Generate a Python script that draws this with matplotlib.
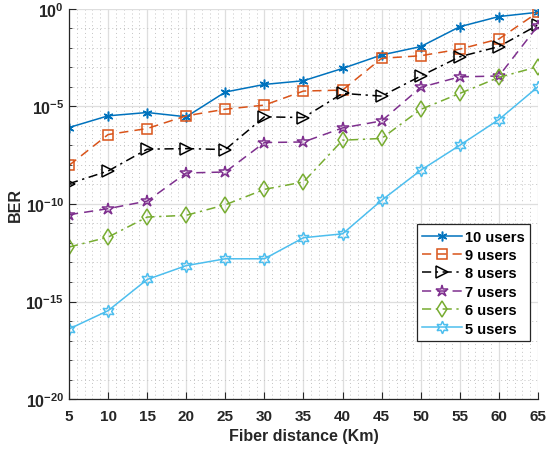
import numpy as np
import matplotlib
matplotlib.use("Agg")
import matplotlib.pyplot as plt
from matplotlib.ticker import FixedLocator, MultipleLocator, NullFormatter

plt.rcParams['font.family'] = 'Liberation Sans'
plt.rcParams['font.weight'] = 'bold'
plt.rcParams['mathtext.fontset'] = 'custom'
plt.rcParams['mathtext.rm'] = 'Liberation Sans:bold'
plt.rcParams['mathtext.bf'] = 'Liberation Sans:bold'

distance = [5, 10, 15, 20, 25, 30, 35, 40, 45, 50, 55, 60, 65]

# log10(BER)
ber_10 = [-6.08, -5.48, -5.31, -5.53, -4.26, -3.87, -3.68, -3.05, -2.36, -1.93, -0.91, -0.39, -0.17]
ber_9 = [-8.02, -6.44, -6.13, -5.48, -5.14, -4.93, -4.21, -4.16, -2.53, -2.40, -2.06, -1.54, -0.17]
ber_8 = [-8.96, -8.31, -7.19, -7.16, -7.21, -5.53, -5.57, -4.33, -4.47, -3.44, -2.45, -1.93, -0.82]
ber_7 = [-10.55, -10.24, -9.85, -8.41, -8.36, -6.85, -6.82, -6.10, -5.74, -4.02, -3.48, -3.44, -0.86]
ber_6 = [-12.21, -11.70, -10.67, -10.58, -10.04, -9.25, -8.87, -6.73, -6.64, -5.15, -4.33, -3.51, -2.96]
ber_5 = [-16.41, -15.47, -13.87, -13.16, -12.81, -12.81, -11.73, -11.53, -9.81, -8.27, -6.99, -5.67, -3.99]

labels = ['10 users', '9 users', '8 users', '7 users', '6 users', '5 users']

series = [ber_10, ber_9, ber_8, ber_7, ber_6, ber_5]
colors = ['#0072BD', '#D95319', '#000000', '#7E2F8E', '#77AC30', '#4DBEEE']
styles = ['-', (0, (6, 4)), (0, (6, 3, 1.5, 3)), (0, (6, 4)), (0, (6, 3, 1.5, 3)), '-']
markers = [(6, 2, 0), 's', '>', '*', 'd', (6, 1, 0)]
msizes = [7, 6.5, 8, 9, 8, 9]

fig = plt.figure(figsize=(5.46, 4.52), dpi=100)
ax = fig.add_axes([0.1264, 0.115, 0.8589, 0.863])

for s, lab, c, ls, m, ms in zip(series, labels, colors, styles, markers, msizes):
    ax.semilogy(distance, 10.0 ** np.array(s), color=c, linestyle=ls, linewidth=1.1,
                marker=m, markersize=ms, markerfacecolor='none', markeredgecolor=c,
                markeredgewidth=1.1, label=lab)

ax.set_xlim(5, 65)
ax.set_ylim(1e-20, 1e0)
ax.xaxis.set_major_locator(MultipleLocator(5))
ax.xaxis.set_minor_locator(MultipleLocator(1))
ax.yaxis.set_major_locator(FixedLocator([10.0 ** e for e in range(-20, 1, 5)]))
ax.yaxis.set_minor_locator(FixedLocator([10.0 ** e for e in range(-20, 1)]))
ax.yaxis.set_minor_formatter(NullFormatter())
ax.set_yticklabels([r'$10^{%d}$' % e for e in range(-20, 1, 5)])

ax.grid(which='major', color='#dedede', linewidth=0.9, linestyle='-')
ax.grid(which='minor', color='#c4c4c4', linewidth=0.7, linestyle=(0, (1, 3)))
ax.set_axisbelow(True)

for side in ['top', 'right']:
    ax.spines[side].set_visible(False)
for side in ['left', 'bottom']:
    ax.spines[side].set_color('#262626')
    ax.spines[side].set_linewidth(0.9)

ax.tick_params(which='both', direction='in', colors='#262626')
ax.tick_params(axis='x', labelsize=11, pad=7)
ax.tick_params(axis='y', labelsize=11.5)
ax.tick_params(which='major', length=5)
ax.tick_params(which='minor', length=2.5)
ax.tick_params(axis='x', which='minor', length=0)

ax.set_xlabel('Fiber distance (Km)', fontsize=11.5, fontweight='bold', color='#262626')
ax.set_ylabel('BER', fontsize=11.5, fontweight='bold', color='#262626', labelpad=2)

leg = ax.legend(loc='upper left', bbox_to_anchor=(0.741, 0.449), fancybox=False,
                edgecolor='#262626', framealpha=1, fontsize=10.5,
                handlelength=2.7, handletextpad=0.2, labelspacing=0.3,
                borderpad=0.4, borderaxespad=0)
leg.get_frame().set_linewidth(0.9)
for t in leg.get_texts():
    t.set_fontweight('bold')

fig.savefig('out.png', dpi=100)
